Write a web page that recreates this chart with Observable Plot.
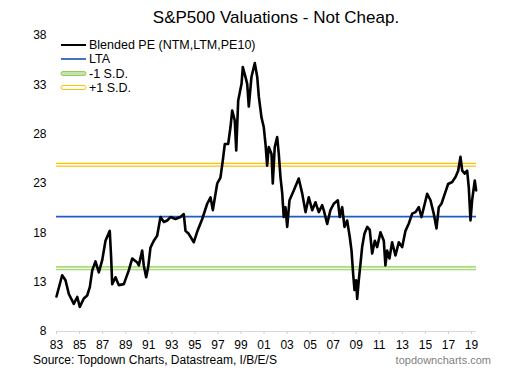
<!DOCTYPE html>
<html><head><meta charset="utf-8">
<script src="https://cdn.jsdelivr.net/npm/d3@7"></script>
<script src="https://cdn.jsdelivr.net/npm/@observablehq/plot@0.6"></script>
<style>
body{margin:0;background:#fff;font-family:"Liberation Sans",Arial,sans-serif;color:#000}
#wrap{position:relative;width:516px;height:382px;overflow:hidden;background:#fff}
#title{position:absolute;top:8px;left:20px;width:512px;text-align:center;font-size:17px;line-height:20px}
#chart{position:absolute;top:0;left:0}
#legend{position:absolute;left:60px;top:38px;font-size:12.5px;line-height:14.3px}
#legend .row{display:flex;align-items:center;white-space:nowrap}
#legend svg{margin-right:2px}
#source{position:absolute;left:33px;top:353px;font-size:12px;line-height:14px}
#brand{position:absolute;right:25px;top:353px;font-size:11px;line-height:14px;color:#7f7f7f}
</style></head>
<body>
<div id="wrap">
  <div id="chart"></div>
  <div id="title">S&amp;P500 Valuations - Not Cheap.</div>
  <div id="legend"></div>
  <div id="source">Source: Topdown Charts, Datastream, I/B/E/S</div>
  <div id="brand">topdowncharts.com</div>
</div>
<script>
// Decimal years and blended PE readings
const years = [1983.00,1983.49,1983.78,1984.07,1984.50,1984.80,1985.02,1985.37,1985.66,1985.89,
1986.10,1986.38,1986.67,1986.96,1987.25,1987.62,1987.74,1987.83,1988.12,1988.40,1988.84,1989.27,1989.57,
1990.00,1990.14,1990.43,1990.57,1990.78,1990.95,1991.15,1991.44,1991.73,1992.02,1992.31,1992.60,1992.89,
1993.32,1993.75,1994.04,1994.19,1994.47,1994.91,1995.20,1995.64,1996.07,1996.36,1996.56,1996.94,1997.22,
1997.42,1997.60,1997.89,1998.09,1998.24,1998.46,1998.59,1998.76,1999.05,1999.16,1999.39,1999.54,1999.68,
1999.91,2000.20,2000.41,2000.55,2000.78,2000.98,2001.13,2001.27,2001.41,2001.65,2001.76,2001.93,2002.14,
2002.28,2002.43,2002.58,2002.71,2002.86,2003.01,2003.21,2003.58,2004.01,2004.31,2004.60,2004.88,2005.18,
2005.46,2005.75,2006.04,2006.18,2006.48,2006.76,2007.05,2007.40,2007.57,2007.78,2007.98,2008.21,2008.44,
2008.59,2008.73,2008.85,2008.99,2009.08,2009.22,2009.37,2009.51,2009.71,2009.95,2010.17,2010.38,2010.61,
2010.81,2011.10,2011.39,2011.53,2011.68,2011.88,2012.11,2012.40,2012.69,2012.98,2013.27,2013.56,2013.85,
2014.14,2014.42,2014.66,2014.94,2015.15,2015.44,2015.72,2015.96,2016.16,2016.39,2016.68,2016.97,2017.32,
2017.61,2017.84,2018.04,2018.19,2018.41,2018.62,2018.76,2018.91,2019.05,2019.28,2019.40];
const pe = [11.55,13.7,13.2,11.8,10.8,11.5,10.5,11.35,11.65,12.5,
14.2,15.1,14.0,15.2,17.2,18.2,15.5,12.8,13.5,12.7,12.8,14.2,15.4,
15.0,14.7,16.2,14.7,13.5,14.5,16.5,17.2,17.7,19.6,19.1,19.25,19.6,
19.4,19.6,19.9,18.2,17.9,17.05,18.1,19.4,20.95,21.6,20.3,23.0,23.6,
25.3,27.0,27.0,28.7,30.4,29.4,26.35,31.4,33.1,34.8,33.8,33.1,30.8,
33.8,35.2,33.8,31.8,29.7,28.7,27.0,24.8,26.7,26.0,23.0,26.7,27.7,
26.0,23.6,22.0,19.6,20.6,18.6,21.3,22.3,23.5,22.0,20.1,21.6,20.3,
21.1,20.1,20.8,20.3,18.9,20.3,20.95,21.3,19.6,20.6,18.6,19.25,17.55,
16.2,13.85,12.2,13.2,11.3,13.2,14.9,16.55,17.9,18.6,18.3,15.9,17.2,
16.55,18.05,17.2,14.7,16.2,15.4,17.05,15.7,17.05,16.55,18.2,18.95,19.95,
20.1,20.6,19.6,20.95,21.95,21.3,19.95,18.45,20.6,20.95,21.95,22.95,23.15,
23.65,24.3,25.7,24.3,24.0,24.3,22.6,19.25,21.3,23.3,22.3];
const lta = 19.65;
const sdMinus = 14.4;
const sdPlus = 24.9;
const xTicks = [1983,1985,1987,1989,1991,1993,1995,1997,1999,2001,2003,2005,2007,2009,2011,2013,2015,2017,2019];
const yTicks = [8,13,18,23,28,33,38];
const seriesNames = ["Blended PE (NTM,LTM,PE10)","LTA","-1 S.D.","+1 S.D."];

const data = years.map((t,i)=>({t, v: pe[i]}));

const chart = Plot.plot({
  width: 516, height: 352,
  marginLeft: 56, marginRight: 40, marginTop: 35, marginBottom: 21,
  x: {domain: [1983, 2019.43], label: null},
  y: {domain: [8, 38], label: null},
  style: {fontFamily: "'Liberation Sans', Arial, sans-serif", fontSize: "12px", color: "#000", background: "transparent", overflow: "visible"},
  marks: [
    Plot.ruleY([8], {stroke: "#d9d9d9", strokeWidth: 1}),
    Plot.axisX({ticks: xTicks, tickFormat: d => String(d % 100).padStart(2, "0"), tickSize: 3, tickPadding: 6, stroke: "#d0d0d0", fill: "#000", fontSize: 12}),
    Plot.axisY({ticks: yTicks, tickSize: 0, tickPadding: 10, fill: "#000", fontSize: 12}),
    Plot.ruleY([sdMinus], {stroke: "#92d050", strokeWidth: 4}),
    Plot.ruleY([sdMinus], {stroke: "#eef6e6", strokeWidth: 1.6}),
    Plot.ruleY([sdPlus], {stroke: "#ffc000", strokeWidth: 4}),
    Plot.ruleY([sdPlus], {stroke: "#ffffff", strokeWidth: 1.6}),
    Plot.ruleY([lta], {stroke: "#1f5bc6", strokeWidth: 1.8}),
    Plot.line(data, {x: "t", y: "v", stroke: "#000", strokeWidth: 2.6, strokeLinejoin: "round"})
  ]
});
document.getElementById("chart").appendChild(chart);

const swatches = [
  '<svg width="27" height="8"><line x1="1" y1="4" x2="26" y2="4" stroke="#000" stroke-width="2"/></svg>',
  '<svg width="27" height="8"><line x1="1" y1="4" x2="26" y2="4" stroke="#4472c4" stroke-width="2"/></svg>',
  '<svg width="27" height="8"><rect x="1" y="1.5" width="25" height="4" rx="2" fill="#c5e0b3" stroke="#92d050" stroke-width="1"/></svg>',
  '<svg width="27" height="8"><rect x="1" y="1.5" width="25" height="4" rx="2" fill="#fff" stroke="#ffc000" stroke-width="1"/></svg>'
];
const leg = document.getElementById("legend");
seriesNames.forEach((n,i)=>{
  const r = document.createElement("div");
  r.className = "row";
  r.innerHTML = swatches[i] + "<span>" + n + "</span>";
  leg.appendChild(r);
});
</script>
</body></html>
